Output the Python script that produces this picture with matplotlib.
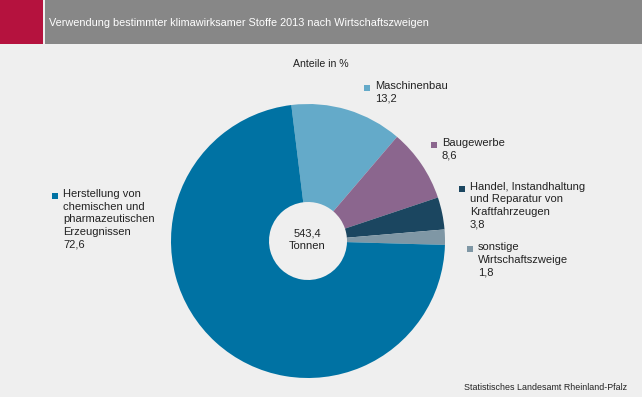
import matplotlib
matplotlib.use("Agg")
import matplotlib.pyplot as plt
from matplotlib.patches import Rectangle
from matplotlib import font_manager

names = {f.name for f in font_manager.fontManager.ttflist}
narrow = "Liberation Sans Narrow" if "Liberation Sans Narrow" in names else "Liberation Sans"
FONT = ["Liberation Sans", "DejaVu Sans"]
NARROW = [narrow, "DejaVu Sans"]

title = "Verwendung bestimmter klimawirksamer Stoffe 2013 nach Wirtschaftszweigen"
categories = ["Maschinenbau", "Baugewerbe",
              "Handel, Instandhaltung\nund Reparatur von\nKraftfahrzeugen",
              "sonstige\nWirtschaftszweige",
              "Herstellung von\nchemischen und\npharmazeutischen\nErzeugnissen"]
values = [13.2, 8.6, 3.8, 1.8, 72.6]
value_labels = ["13,2", "8,6", "3,8", "1,8", "72,6"]
colors = ["#64aac9", "#8b668e", "#1b4660", "#7f97a5", "#0072a3"]
total_label = "543,4\nTonnen"

W, H = 642, 397
fig = plt.figure(figsize=(W / 100, H / 100), dpi=100)
fig.patch.set_facecolor("#efefef")
ax = fig.add_axes([0, 0, 1, 1])

def Y(y):
    return H - y

# donut
cx, cy, R, r_in = 308, Y(241), 137, 39
ax.pie(values, colors=colors, startangle=97, counterclock=False, center=(cx, cy), radius=R,
       wedgeprops=dict(width=R - r_in, linewidth=0), frame=True)
ax.set_xlim(0, W)
ax.set_ylim(0, H)
ax.set_aspect("equal")
ax.axis("off")

# header bar
ax.add_patch(Rectangle((0, Y(44)), 43, 44, color="#b5123e", lw=0))
ax.add_patch(Rectangle((45, Y(44)), W - 45, 44, color="#878787", lw=0))
title_size = 9.5 if narrow != "Liberation Sans" else 7.8
ax.text(49, Y(23), title, color="white", fontsize=title_size, family=NARROW,
        va="center", ha="left")

ax.text(321, Y(64), "Anteile in %", fontsize=7.6, family=FONT, ha="center", va="center", color="#222222")

ax.text(cx - 1, Y(239.5), total_label, fontsize=8, family=FONT, ha="center", va="center",
        linespacing=1.32, color="#222222")

# labels: (marker x, first line y)
label_pos = [(367, 88), (434, 145), (462, 188.5), (470, 249), (55, 196)]
for (mx, my), cat, val, col in zip(label_pos, categories, value_labels, colors):
    ax.add_patch(Rectangle((mx - 3, Y(my) - 3), 6, 6, color=col, lw=0))
    ax.text(mx + 8, Y(my) + 7, cat + "\n" + val, fontsize=8, family=FONT, ha="left", va="top",
            linespacing=1.33, color="#222222")

src_size = 7 if narrow != "Liberation Sans" else 6.4
ax.text(627, Y(388), "Statistisches Landesamt Rheinland-Pfalz", fontsize=src_size, family=NARROW,
        ha="right", va="center", color="#222222")

fig.savefig("out.png", dpi=100, facecolor=fig.get_facecolor())
